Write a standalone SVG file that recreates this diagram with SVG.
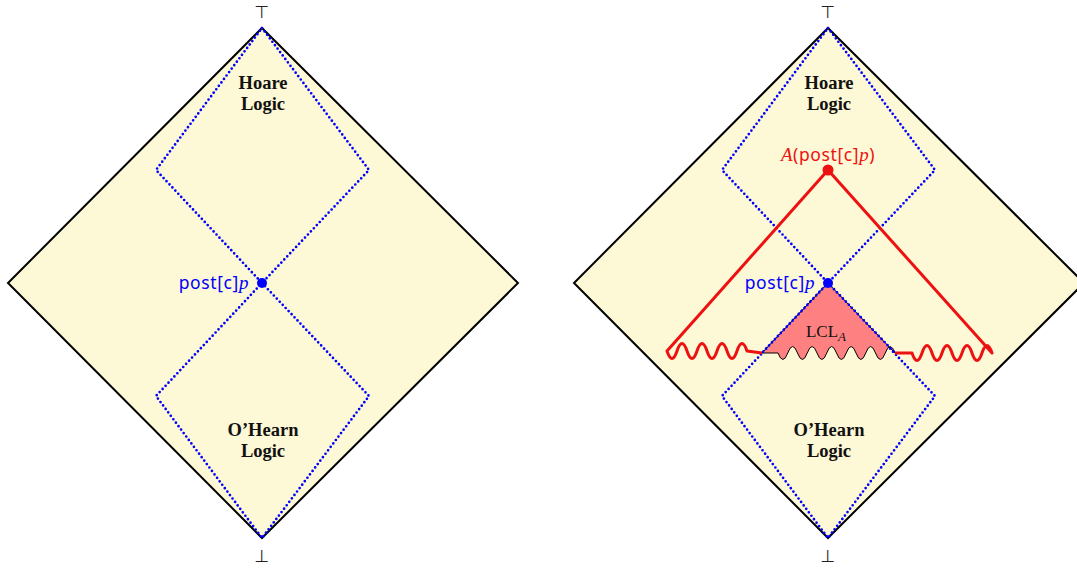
<svg xmlns="http://www.w3.org/2000/svg" width="1077" height="569" viewBox="0 0 1077 569">
<style>
.outer{fill:#fdf8d5;stroke:#000;stroke-width:2;stroke-linejoin:miter}
.dot{fill:none;stroke:#0000ff;stroke-width:2.7;stroke-dasharray:0 4.3;stroke-linecap:round}
.lbl{font-family:"Liberation Serif",serif;font-weight:bold;font-size:18.5px;fill:#111;text-anchor:middle}
.sym{font-family:"DejaVu Sans",sans-serif;font-size:17px;fill:#222;text-anchor:middle}
.post{font-family:"Noto Sans","Liberation Sans",sans-serif;font-size:17.5px;letter-spacing:0.6px}
.it{font-family:"Liberation Serif",serif;font-style:italic;font-size:19px}
.red{fill:none;stroke:#ee1111;stroke-width:3;stroke-linejoin:round}
</style>
<g id="left-diagram">
  <g id="left-lattice">
    <polygon class="outer" points="262,28 518,283 262,538 8,283"/>
  </g>
  <g id="left-hoare">
    <polygon class="dot" points="262,28 369,170 262,283 156,170"/>
    <text class="lbl" x="263" y="89">Hoare</text>
    <text class="lbl" x="263" y="110">Logic</text>
  </g>
  <g id="left-ohearn">
    <polygon class="dot" points="262,283 369,396 262,538 156,396"/>
    <text class="lbl" x="263" y="436">O’Hearn</text>
    <text class="lbl" x="263" y="457">Logic</text>
  </g>
  <g id="left-top"><text class="sym" x="262" y="18">⊤</text></g>
  <g id="left-bottom"><text class="sym" x="262" y="562">⊥</text></g>
  <g id="left-post">
    <circle cx="262" cy="283" r="5" fill="#0000ff"/>
    <text class="post" x="249" y="289" text-anchor="end" fill="#0000ff">post[c]<tspan class="it">p</tspan></text>
  </g>
</g>
<g id="right-diagram">
  <g id="right-lattice">
    <polygon class="outer" points="828,28 1084,283 828,538 574,283"/>
  </g>
  <g id="right-hoare">
    <polygon class="dot" points="828,28 935,170 828,283 722,170"/>
    <text class="lbl" x="829" y="89">Hoare</text>
    <text class="lbl" x="829" y="110">Logic</text>
  </g>
  <g id="right-ohearn">
    <polygon class="dot" points="828,283 935,396 828,538 722,396"/>
    <text class="lbl" x="829" y="436">O’Hearn</text>
    <text class="lbl" x="829" y="457">Logic</text>
  </g>
  <g id="right-top"><text class="sym" x="828" y="18">⊤</text></g>
  <g id="right-bottom"><text class="sym" x="828" y="562">⊥</text></g>
  <g id="lcl">
    <path d="M828 283 L762 353 L778 353 q4.875 13 9.75 0 t9.75 0 t9.75 0 t9.75 0 t9.75 0 t9.75 0 t9.75 0 t9.75 0 t9.75 0 t9.75 0 t9.75 0 t9.75 0 L828 283 Z" fill="#ff8080" stroke="#000" stroke-width="1"/>
    <path class="dot" d="M828 283 L762 353 M828 283 L895 353"/>
    <text x="826" y="337" font-family="Liberation Serif,serif" font-size="17" fill="#111" text-anchor="middle">LCL<tspan font-family="Liberation Serif,serif" font-style="italic" font-size="13" dy="4">A</tspan></text>
  </g>
  <g id="connectors">
    <path class="red" d="M895 353 L912 353 q5 15 10 0 t10 0 t10 0 t10 0 t10 0 t10 0 t10 0 t10 0 L828 170 L667 351 q5 15 10 0 t10 0 t10 0 t10 0 t10 0 t10 0 t10 0 t10 0 L762 353"/>
  </g>
  <g id="right-A">
    <circle cx="828" cy="170" r="5.5" fill="#ee1111"/>
    <text class="post" x="828" y="161" text-anchor="middle" fill="#ee1111"><tspan class="it">A</tspan>(post[c]<tspan class="it">p</tspan>)</text>
  </g>
  <g id="right-post">
    <circle cx="828" cy="283" r="5" fill="#0000ff"/>
    <text class="post" x="815" y="289" text-anchor="end" fill="#0000ff">post[c]<tspan class="it">p</tspan></text>
  </g>
</g>
</svg>
